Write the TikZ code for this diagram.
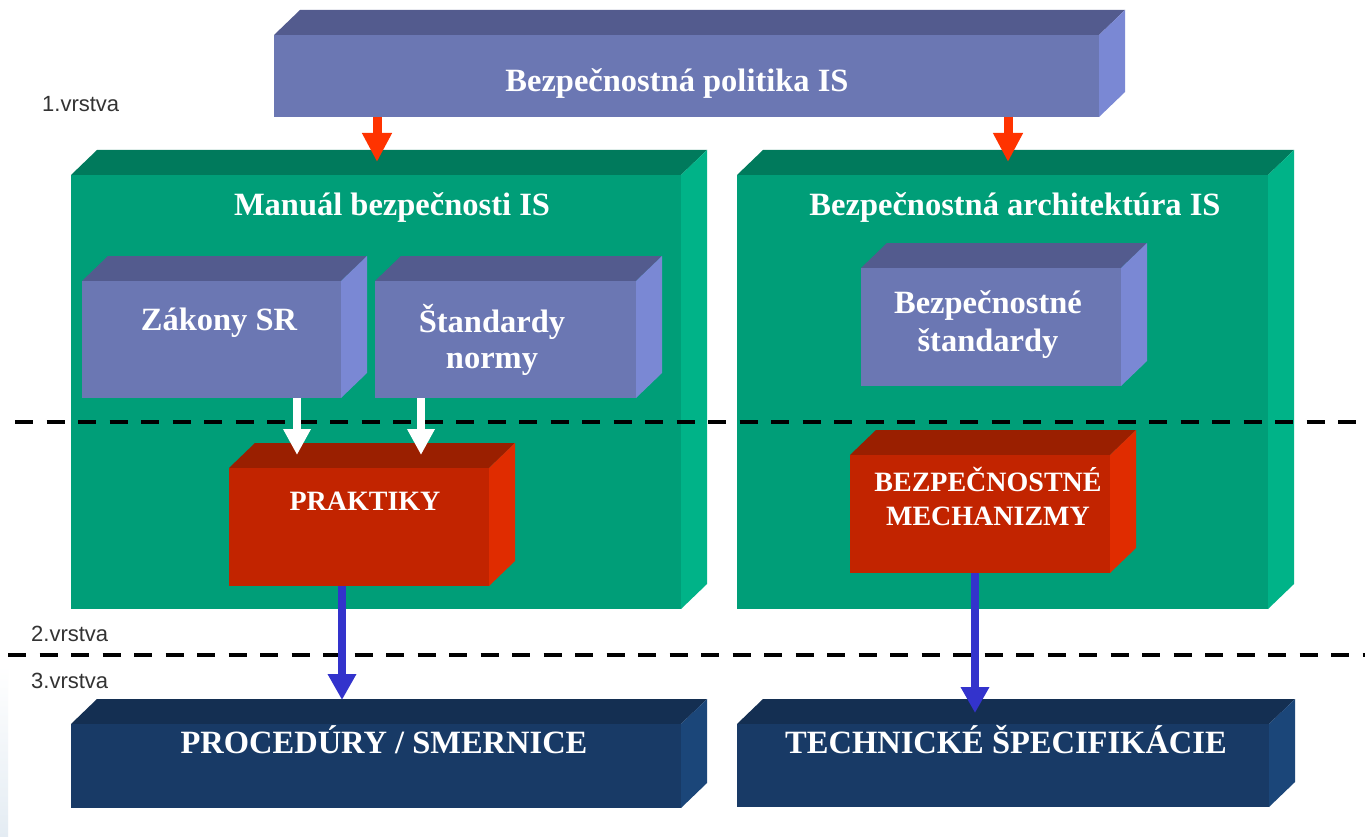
\documentclass[tikz,border=0pt]{standalone}
\usepackage{fontspec}
\setmainfont{Liberation Serif}
\newfontfamily\lblfont{Liberation Sans}
\usetikzlibrary{arrows.meta}
\definecolor{purpfront}{HTML}{6B77B3}
\definecolor{purptop}{HTML}{535B8E}
\definecolor{purpside}{HTML}{7A88D4}
\definecolor{greenfront}{HTML}{009E78}
\definecolor{greentop}{HTML}{007A5C}
\definecolor{greenside}{HTML}{00B388}
\definecolor{redfront}{HTML}{C22400}
\definecolor{redtop}{HTML}{9A1F00}
\definecolor{redside}{HTML}{E02C00}
\definecolor{navyfront}{HTML}{183A66}
\definecolor{navytop}{HTML}{142F52}
\definecolor{navyside}{HTML}{1B4679}
\definecolor{arrred}{HTML}{FF3300}
\definecolor{arrblue}{HTML}{3333CC}
\definecolor{stripc}{HTML}{E4ECF3}
\tikzset{
  bigtxt/.style={text=white, font=\fontsize{32.5}{36}\selectfont\bfseries, anchor=base, inner sep=0},
  redtxt/.style={text=white, font=\fontsize{28}{34}\selectfont\bfseries, anchor=base, inner sep=0},
  layer/.style={text=black!80, font=\lblfont\fontsize{22}{26}\selectfont, anchor=base west, inner sep=0},
  divider/.style={line width=3.5pt, dash pattern=on 18pt off 13.5pt},
  redarrow/.style={arrred, line width=9pt, -{Triangle[width=28pt,length=29pt]}},
  whitearrow/.style={white, line width=8pt, -{Triangle[width=26pt,length=26pt]}},
  bluearrow/.style={arrblue, line width=8pt, -{Triangle[width=27pt,length=26pt]}},
}
\newcommand\cubebox[6]{%
  \fill[#6top] (#2,#3) -- (#2+26,#3-25) -- (#4+26,#3-25) -- (#4,#3) -- cycle;
  \fill[#6side] (#4,#3) -- (#4+26,#3-25) -- (#4+26,#5-25) -- (#4,#5) -- cycle;
  \node[fill=#6front, inner sep=0, outer sep=0, anchor=north west,
        minimum width=#4-#2, minimum height=#5-#3] (#1) at (#2,#3) {};
}
\begin{document}
\begin{tikzpicture}[x=1pt,y=-1pt]
\useasboundingbox[fill=white] (0,0) rectangle (1365,837);
\shade[top color=white, bottom color=stripc] (0,665) rectangle (8,837);

% boxes
\cubebox{pol}{274}{35}{1099}{117}{purp}
\cubebox{man}{71}{175}{681}{609}{green}
\cubebox{arch}{737}{175}{1268}{609}{green}
\cubebox{zak}{82}{281}{341}{398}{purp}
\cubebox{std}{375}{281}{636}{398}{purp}
\cubebox{bstd}{861}{268}{1121}{386}{purp}
\cubebox{prak}{229}{468}{489}{586}{red}
\cubebox{mech}{850}{455}{1110}{573}{red}
\cubebox{proc}{71}{724}{681}{808}{navy}
\cubebox{tech}{737}{724}{1269}{807}{navy}

% texts
\node[bigtxt] (tpol) at (677,92) {Bezpečnostná politika IS};
\node[bigtxt] (tman) at (392,215) {Manuál bezpečnosti IS};
\node[bigtxt] (tarch) at (1015,215) {Bezpečnostná architektúra IS};
\node[bigtxt] (tzak) at (219,330) {Zákony SR};
\node[bigtxt] (tstd1) at (492,332) {Štandardy};
\node[bigtxt] (tstd2) at (492,368) {normy};
\node[bigtxt] (tbstd1) at (988,313) {Bezpečnostné};
\node[bigtxt] (tbstd2) at (988,351) {štandardy};
\node[redtxt] (tprak) at (365,510) {PRAKTIKY};
\node[redtxt] (tmech1) at (988,491) {BEZPEČNOSTNÉ};
\node[redtxt] (tmech2) at (988,525) {MECHANIZMY};
\node[bigtxt] (tproc) at (384,753) {PROCEDÚRY / SMERNICE};
\node[bigtxt] (ttech) at (1006,753) {TECHNICKÉ ŠPECIFIKÁCIE};

\node[layer] (l1) at (42,112) {1.vrstva};
\node[layer] (l2) at (31,641) {2.vrstva};
\node[layer] (l3) at (31,688) {3.vrstva};

% dividers
\coordinate (d1a) at (15,422);
\coordinate (d1b) at (1365,422);
\coordinate (d2a) at (8,655);
\coordinate (d2b) at (1365,655);
\draw[divider] (d1a) -- (d1b);
\draw[divider] (d2a) -- (d2b);

% arrows
\coordinate (e1) at (377,162);
\coordinate (e2) at (1008,162);
\coordinate (e3) at (297,455);
\coordinate (e4) at (421,455);
\coordinate (e5) at (342,700);
\coordinate (e6) at (975,713);
\draw[redarrow] (pol.south -| e1) -- (e1);
\draw[redarrow] (pol.south -| e2) -- (e2);
\draw[whitearrow] (zak.south -| e3) -- (e3);
\draw[whitearrow] (std.south -| e4) -- (e4);
\draw[bluearrow] (prak.south -| e5) -- (e5);
\draw[bluearrow] (mech.south -| e6) -- (e6);
\end{tikzpicture}
\end{document}
